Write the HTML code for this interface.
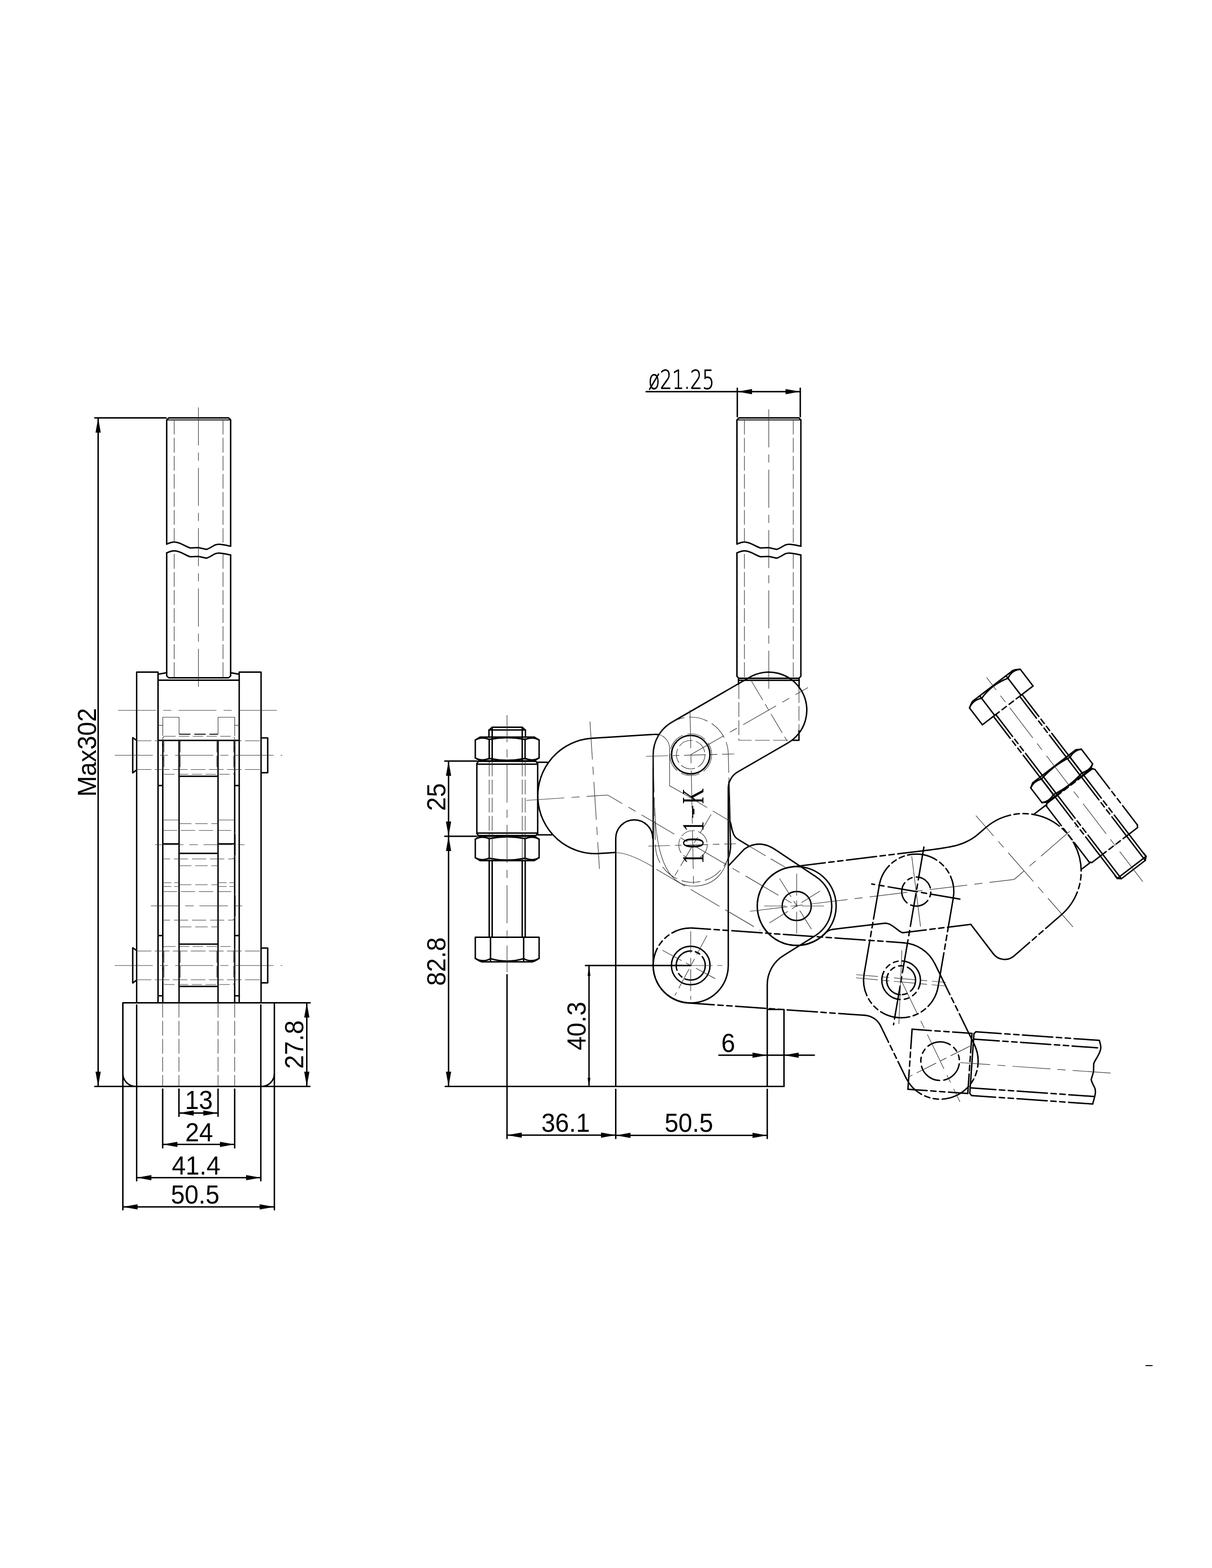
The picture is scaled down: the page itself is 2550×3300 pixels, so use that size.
<!DOCTYPE html>
<html><head><meta charset="utf-8"><title>Toggle clamp 101-K</title>
<style>
html,body{margin:0;padding:0;background:#fff}
svg{display:block}
.k{fill:none;stroke:#000;stroke-width:3;stroke-linecap:round;stroke-linejoin:round}
.m{fill:none;stroke:#000;stroke-width:2.1;stroke-linecap:butt;stroke-linejoin:round}
.t{fill:none;stroke:#303030;stroke-width:1.2;stroke-linecap:butt}
.a{fill:#000;stroke:none}
.d{font-family:"Liberation Sans",sans-serif;fill:#000}
.s{font-family:"Liberation Serif",serif;fill:#000}
.x{font-family:"DejaVu Sans","Liberation Sans",sans-serif;font-weight:200;fill:#000}
</style></head><body>
<svg width="2550" height="3300" viewBox="0 0 2550 3300">
<rect x="0" y="0" width="2550" height="3300" fill="#fff"/>
<g id="left-view">
<path class="k" d="M199.5 879.5L349.5 879.5"/>
<path class="k" d="M206.5 882L206.5 2284"/>
<polygon class="a" points="206.5,879.5 212,910.5 201,910.5"/>
<polygon class="a" points="206.5,2286.5 201,2255.5 212,2255.5"/>
<path class="k" d="M199.5 2286.5L652 2286.5"/>
<text class="d" transform="translate(201.5 1583.5) rotate(-90) scale(1 1.04)" font-size="52.5" text-anchor="middle">Max302</text>
<path class="k" d="M350.75 1145V883.5 L355 879.5H481L485.25 883.5V1149.5"/>
<path class="m" d="M350.75 883.75H485.25"/>
<path class="k" d="M350.75 1145C356.75 1142.5 360.75 1140.75 366.75 1140.75C378.75 1140.75 390.25 1150.25 400.25 1153.25L417.5 1152.5L434.25 1156.25C441.25 1154.25 447.25 1149.5 452.25 1147C455.25 1146 457.25 1145.5 460.25 1145.5C468.25 1145.5 477.25 1148 485.25 1149.5"/>
<path class="k" d="M350.75 1163.5C356.75 1161 360.75 1159.25 366.75 1159.25C378.75 1159.25 390.25 1168.75 400.25 1171.75L417.5 1171L434.25 1174.75C441.25 1172.75 447.25 1168 452.25 1165.5C455.25 1164.5 457.25 1164 460.25 1164C468.25 1164 477.25 1166.5 485.25 1168"/>
<path class="k" d="M350.75 1163.5V1422.5 L355 1426.5H481L485.25 1422.5V1168"/>
<path class="t" d="M366.5 883.5L366.5 1142" stroke-dasharray="31 7"/>
<path class="t" d="M366.5 1166L366.5 1426.5" stroke-dasharray="31 7"/>
<path class="t" d="M469.25 883.5L469.25 1142" stroke-dasharray="31 7"/>
<path class="t" d="M469.25 1166L469.25 1426.5" stroke-dasharray="31 7"/>
<path class="t" d="M417.5 857.5L417.5 1454.5" stroke-dasharray="80 15 17 15"/>
<path class="k" d="M332.5 2110.5V1414.5H287.5V2110.5"/>
<path class="k" d="M503.25 2110.5V1414.5H549.25V2110.5"/>
<path class="k" d="M334 1418.75L350.75 1415.75"/>
<path class="k" d="M485.25 1415.75L501.75 1418.75"/>
<path class="k" d="M332.5 1431.5L503.25 1431.5"/>
<path class="k" d="M332.5 1558.25L503.25 1558.25"/>
<path class="k" d="M342.5 1558.25L342.5 2110.5"/>
<path class="k" d="M376.75 1558.25L376.75 2110.5"/>
<path class="k" d="M458.75 1558.25L458.75 2110.5"/>
<path class="k" d="M493.75 1558.25L493.75 2110.5"/>
<path class="k" d="M376.75 1633.75L458.75 1633.75"/>
<path class="k" d="M376.75 1796L458.75 1796"/>
<path class="k" d="M376.75 1987L458.75 1987"/>
<path class="k" d="M376.75 2076L458.75 2076"/>
<path class="m" d="M376.75 1545.25L458.75 1545.25" stroke-dasharray="24 8"/>
<path class="k" d="M342.5 1776L376.75 1776"/>
<path class="k" d="M458.75 1776L493.75 1776"/>
<path class="k" d="M332.5 1653.25L342.5 1653.25"/>
<path class="k" d="M493.75 1653.25L503.25 1653.25"/>
<path class="k" d="M332.5 1969L342.5 1969"/>
<path class="k" d="M493.75 1969L503.25 1969"/>
<path class="k" d="M332.5 2095.75L342.5 2095.75"/>
<path class="k" d="M493.75 2095.75L503.25 2095.75"/>
<path class="k" d="M287.5 1558.25L279.25 1552.5V1626.5L287.5 1620.5"/>
<path class="k" d="M549.25 1553H563.25V1626.25H549.25"/>
<path class="k" d="M287.5 2000.5L279.25 1994.75V2068.75L287.5 2062.75"/>
<path class="k" d="M549.25 1995.25H563.25V2068.5H549.25"/>
<path class="t" d="M248.5 1495L585 1495" stroke-dasharray="80 15 17 15"/>
<path class="t" d="M342.5 1549V1509.5H376.75V1545"/>
<path class="t" d="M458.75 1545V1509.5H493.75V1549"/>
<path class="t" d="M332.5 1526.5L342.5 1526.5"/>
<path class="t" d="M493.75 1526.5L503.25 1526.5"/>
<rect class="t" x="342.5" y="1549.5" width="151.25" height="80" rx="5" stroke-dasharray="22 7"/>
<path class="t" d="M287.5 1559L549 1559" stroke-dasharray="31 7"/>
<path class="t" d="M287.5 1619.5L549 1619.5" stroke-dasharray="31 7"/>
<path class="t" d="M241.5 1589.5L594 1589.5" stroke-dasharray="80 15 17 15"/>
<path class="t" d="M345 1559.5L345 1619.5" stroke-dasharray="24 7"/>
<path class="t" d="M379.25 1559.5L379.25 1619.5" stroke-dasharray="24 7"/>
<path class="t" d="M456.25 1559.5L456.25 1619.5" stroke-dasharray="24 7"/>
<path class="t" d="M491.75 1559.5L491.75 1619.5" stroke-dasharray="24 7"/>
<rect class="t" x="342.5" y="1992" width="151.25" height="80" rx="5" stroke-dasharray="22 7"/>
<path class="t" d="M287.5 2001.5L549 2001.5" stroke-dasharray="31 7"/>
<path class="t" d="M287.5 2062L549 2062" stroke-dasharray="31 7"/>
<path class="t" d="M241.5 2032L594 2032" stroke-dasharray="80 15 17 15"/>
<path class="t" d="M345 2002L345 2062" stroke-dasharray="24 7"/>
<path class="t" d="M379.25 2002L379.25 2062" stroke-dasharray="24 7"/>
<path class="t" d="M456.25 2002L456.25 2062" stroke-dasharray="24 7"/>
<path class="t" d="M491.75 2002L491.75 2062" stroke-dasharray="24 7"/>
<path class="t" d="M342.5 1725.75L376.75 1725.75"/>
<path class="t" d="M458.75 1725.75L493.75 1725.75"/>
<path class="t" d="M376.75 1733.5L458.75 1733.5" stroke-dasharray="26 8"/>
<path class="t" d="M376.75 1822L458.75 1822" stroke-dasharray="26 8"/>
<path class="t" d="M376.75 1862L458.75 1862" stroke-dasharray="26 8"/>
<path class="t" d="M376.75 1950.75L458.75 1950.75" stroke-dasharray="26 8"/>
<path class="t" d="M342.5 1857.75L376.75 1857.75" stroke-dasharray="18 6"/>
<path class="t" d="M458.75 1857.75L493.75 1857.75" stroke-dasharray="18 6"/>
<path class="t" d="M342.5 1865.75L376.75 1865.75" stroke-dasharray="18 6"/>
<path class="t" d="M458.75 1865.75L493.75 1865.75" stroke-dasharray="18 6"/>
<path class="t" d="M342.5 1747.75H488a6 6 0 0 1 6 6V1801.75a6 6 0 0 1 -6 6H342.5" stroke-dasharray="30 8"/>
<path class="m" d="M494.5 1755.75L494.5 1799.75"/>
<path class="t" d="M342.5 1876.5H488a6 6 0 0 1 6 6V1930.5a6 6 0 0 1 -6 6H342.5" stroke-dasharray="30 8"/>
<path class="m" d="M494.5 1884.5L494.5 1928.5"/>
<path class="t" d="M326.25 1777.75L514.25 1777.75" stroke-dasharray="60 12 18 12"/>
<path class="t" d="M317.5 1906.5L510.75 1906.5" stroke-dasharray="60 12 18 12"/>
<path class="k" d="M258.5 2546V2110.5H652.5"/>
<path class="k" d="M577.25 2110.5L577.25 2546"/>
<path class="k" d="M258.5 2259.5A27 27 0 0 0 285.5 2286.5"/>
<path class="k" d="M577.25 2259.5A27 27 0 0 1 550.25 2286.5"/>
<path class="k" d="M287.5 2115L287.5 2485"/>
<path class="k" d="M548.75 2115L548.75 2485"/>
<path class="t" d="M342.25 2110.5L342.25 2286" stroke-dasharray="31 7"/>
<path class="t" d="M376.5 2110.5L376.5 2286" stroke-dasharray="31 7"/>
<path class="t" d="M458.75 2110.5L458.75 2286" stroke-dasharray="31 7"/>
<path class="t" d="M493.75 2110.5L493.75 2286" stroke-dasharray="31 7"/>
<path class="k" d="M342.25 2292L342.25 2415.75"/>
<path class="k" d="M493.75 2292L493.75 2415.75"/>
<path class="k" d="M376.5 2292L376.5 2349.25"/>
<path class="k" d="M458.75 2292L458.75 2349.25"/>
<path class="k" d="M376.5 2342.5L458.75 2342.5"/>
<polygon class="a" points="376.5,2342.5 407.5,2337 407.5,2348"/>
<polygon class="a" points="458.75,2342.5 427.75,2348 427.75,2337"/>
<text class="d" transform="translate(418.5 2334) scale(1 1.04)" font-size="52.5" text-anchor="middle">13</text>
<path class="k" d="M342.25 2408.5L493.75 2408.5"/>
<polygon class="a" points="342.25,2408.5 373.25,2403 373.25,2414"/>
<polygon class="a" points="493.75,2408.5 462.75,2414 462.75,2403"/>
<text class="d" transform="translate(419 2401.5) scale(1 1.04)" font-size="52.5" text-anchor="middle">24</text>
<path class="k" d="M287.5 2478.5L548.75 2478.5"/>
<polygon class="a" points="287.5,2478.5 318.5,2473 318.5,2484"/>
<polygon class="a" points="548.75,2478.5 517.75,2484 517.75,2473"/>
<text class="d" transform="translate(412.5 2472) scale(1 1.04)" font-size="52.5" text-anchor="middle">41.4</text>
<path class="k" d="M258.5 2540L577.25 2540"/>
<polygon class="a" points="258.5,2540 289.5,2534.5 289.5,2545.5"/>
<polygon class="a" points="577.25,2540 546.25,2545.5 546.25,2534.5"/>
<text class="d" transform="translate(410.5 2532.5) scale(1 1.04)" font-size="52.5" text-anchor="middle">50.5</text>
<path class="k" d="M645.5 2113L645.5 2284"/>
<polygon class="a" points="645.5,2110.5 651,2141.5 640,2141.5"/>
<polygon class="a" points="645.5,2286.5 640,2255.5 651,2255.5"/>
<text class="d" transform="translate(638 2198.5) rotate(-90) scale(1 1.04)" font-size="52.5" text-anchor="middle">27.8</text>
</g>
<g id="right-view">
<path class="k" d="M1550.5 1145V883.5 L1554.75 879.5H1680.75L1685 883.5V1149.5"/>
<path class="m" d="M1550.5 883.75H1685"/>
<path class="k" d="M1550.5 1145C1556.5 1142.5 1560.5 1140.75 1566.5 1140.75C1578.5 1140.75 1590 1150.25 1600 1153.25L1617.25 1152.5L1634 1156.25C1641 1154.25 1647 1149.5 1652 1147C1655 1146 1657 1145.5 1660 1145.5C1668 1145.5 1677 1148 1685 1149.5"/>
<path class="k" d="M1550.5 1163.5C1556.5 1161 1560.5 1159.25 1566.5 1159.25C1578.5 1159.25 1590 1168.75 1600 1171.75L1617.25 1171L1634 1174.75C1641 1172.75 1647 1168 1652 1165.5C1655 1164.5 1657 1164 1660 1164C1668 1164 1677 1166.5 1685 1168"/>
<path class="k" d="M1550.5 1163.5V1423.5 L1554.75 1427.5H1680.75L1685 1423.5V1168"/>
<path class="t" d="M1566.25 883.5L1566.25 1142" stroke-dasharray="31 7"/>
<path class="t" d="M1566.25 1166L1566.25 1427.5" stroke-dasharray="31 7"/>
<path class="t" d="M1669 883.5L1669 1142" stroke-dasharray="31 7"/>
<path class="t" d="M1669 1166L1669 1427.5" stroke-dasharray="31 7"/>
<path class="t" d="M1617.5 861.5L1617.5 1455" stroke-dasharray="80 15 17 15"/>
<path class="k" d="M1553.75 1431.75L1681.25 1431.75"/>
<path class="k" d="M1553.75 1428L1553.75 1440"/>
<path class="k" d="M1681.25 1428L1681.25 1448"/>
<path class="t" d="M1554.5 1440V1558H1666" stroke-dasharray="31 7"/>
<path class="t" d="M1681 1448L1681 1540" stroke-dasharray="31 7"/>
<path class="k" d="M1668 1558H1681V1538"/>
<path class="k" d="M1359.5 824.25L1683.75 824.25"/>
<path class="k" d="M1551.25 817L1551.25 877"/>
<path class="k" d="M1683.75 817L1683.75 877"/>
<polygon class="a" points="1551.25,824.25 1582.25,818.75 1582.25,829.75"/>
<polygon class="a" points="1683.75,824.25 1652.75,829.75 1652.75,818.75"/>
<text class="x" transform="translate(1364 817.5) scale(1 1.37)" font-size="40" stroke="#000" stroke-width="0.9" stroke-linejoin="round" style="filter:grayscale(1)">ø21.25</text>
<path class="k" d="M1374.25 2032L1374.25 1588.25A79 79 0 0 1 1413.75 1519.83L1577.5 1425.22A80 80 0 0 1 1686.78 1454.5A80 80 0 0 1 1657.5 1563.78L1552.25 1624.55A40 40 0 0 0 1532.25 1659.19L1532.25 2032A79 79 0 0 1 1453.25 2111A79 79 0 0 1 1374.25 2032"/>
<circle class="k" cx="1453.25" cy="1588.25" r="40.4"/>
<circle class="t" cx="1453.25" cy="1588.25" r="30" stroke-dasharray="31 7"/>
<circle class="t" cx="1453.25" cy="1588.25" r="44" stroke-dasharray="40 10"/>
<circle class="k" cx="1453.25" cy="2032" r="40.6"/>
<circle class="k" cx="1453.25" cy="2032" r="30.6" stroke-dasharray="60 8 10 8" stroke-linecap="butt"/>
<path class="k" d="M936.75 2286.5L1649.5 2286.5"/>
<path class="k" d="M1295.5 2286.5V1764.4A38.9 38.9 0 0 1 1373.4 1764.4"/>
<path class="k" d="M1614.25 2286.5V2072.5A72 72 0 0 1 1648.2 2011.3L1715.33 1969.29 A73.75 73.75 0 0 0 1717.17 1845.39 L1631 1788 Q1597.5 1765.5 1566 1787L1532.5 1822.5"/>
<path class="k" d="M1614.25 2124.5H1649.5V2286.5"/>
<circle class="k" cx="1676.25" cy="1906.75" r="30.6"/>
<path class="k" d="M1260.63 1796.26A121.5 121.5 0 0 1 1131.74 1682.63A121.5 121.5 0 0 1 1245.37 1553.74L1376.87 1545.47L1377.5 1545.4L1386 1546"/>
<path class="k" d="M1260.63 1796.26 L1295.5 1794"/>
<path class="k" d="M1537 1731C1538.5 1738 1539.5 1744 1541.5 1750C1543.5 1758 1547 1763 1552.5 1766.25L1575 1780"/>
<path class="k" d="M1593.3 1909.65 A83 83 0 1 1 1611.75 1958.98"/>
<path class="k" d="M1611.75 1958.98 A83 83 0 0 1 1593.3 1909.65" stroke-dasharray="14 8" stroke-linecap="butt"/>
<path class="t" d="M1386 1546A30 30 0 0 1 1408.75 1575.4V1653.6L1436 1669"/>
<path class="t" d="M1295.5 1794.5Q1322 1794 1372.5 1823.5"/>
<path class="t" d="M1381 1829.5L1599.75 1958.1" stroke-dasharray="70 14"/>
<path class="t" d="M1575 1780L1652.12 1825.35" stroke-dasharray="42 12"/>
<path class="t" d="M1436 1669L1532.81 1726.37" stroke-dasharray="60 14"/>
<path class="k" d="M1533.6 1645L1537 1776A79 79 0 0 1 1532.5 1806"/>
<path class="t" d="M1532.23 1586.27L1536.98 1776.02A79 79 0 0 1 1459.98 1856.98A79 79 0 0 1 1379.02 1779.98L1374.27 1590.23A79 79 0 0 1 1451.27 1509.27A79 79 0 0 1 1532.23 1586.27" stroke-dasharray="40 10"/>
<circle class="t" cx="1458" cy="1778" r="30" stroke-dasharray="31 7"/>
<path class="t" d="M1377.5 1700C1380 1790 1400 1865 1458 1865C1500 1865 1528 1840 1534 1790"/>
<path class="k" d="M1028.75 1551V1536.5L1035.5 1530.5H1098.75L1105.5 1536.5V1551"/>
<path class="k" d="M1028.75 1536.3L1105.5 1536.3"/>
<path class="k" d="M1035.5 1530.5L1035.5 1551"/>
<path class="k" d="M1098.75 1530.5L1098.75 1551"/>
<path class="k" d="M1010 1551.25 H1124.25 L1134.25 1557.5 V1595 L1124.25 1601.25 H1010 L1000 1595 V1557.5 Z"/>
<path class="k" d="M1029.25 1555.25L1029.25 1597.25"/>
<path class="k" d="M1104.75 1555.25L1104.75 1597.25"/>
<path class="k" d="M1029.25 1556.25Q1067 1548.75 1104.75 1556.25"/>
<path class="k" d="M1029.25 1596.25Q1067 1603.75 1104.75 1596.25"/>
<path class="k" d="M1000 1557.5Q1013 1549.75 1029.25 1556.25"/>
<path class="k" d="M1104.75 1556.25Q1121 1549.75 1134.25 1557.5"/>
<path class="k" d="M1000 1595Q1013 1602.75 1029.25 1596.25"/>
<path class="k" d="M1104.75 1596.25Q1121 1602.75 1134.25 1595"/>
<path class="k" d="M1035.5 1551L1035.5 1601"/>
<path class="k" d="M1098.75 1551L1098.75 1601"/>
<path class="k" d="M1006.5 1602.25L1127.5 1602.25L1131.25 1607L1131.25 1754L1127.5 1758.5L1006.5 1758.5L1003.25 1754L1003.25 1607Z"/>
<path class="k" d="M1003.25 1608.25L1131.25 1608.25"/>
<path class="k" d="M1003.25 1753.25L1131.25 1753.25"/>
<path class="t" d="M1029.25 1603L1029.25 1758" stroke-dasharray="31 7"/>
<path class="t" d="M1035.5 1603L1035.5 1758" stroke-dasharray="31 7"/>
<path class="t" d="M1098.75 1603L1098.75 1758" stroke-dasharray="31 7"/>
<path class="t" d="M1105 1603L1105 1758" stroke-dasharray="31 7"/>
<path class="k" d="M1010 1760 H1124.25 L1134.25 1766.25 V1805 L1124.25 1811.25 H1010 L1000 1805 V1766.25 Z"/>
<path class="k" d="M1029.25 1764L1029.25 1807.25"/>
<path class="k" d="M1104.75 1764L1104.75 1807.25"/>
<path class="k" d="M1029.25 1765Q1067 1757.5 1104.75 1765"/>
<path class="k" d="M1029.25 1806.25Q1067 1813.75 1104.75 1806.25"/>
<path class="k" d="M1000 1766.25Q1013 1758.5 1029.25 1765"/>
<path class="k" d="M1104.75 1765Q1121 1758.5 1134.25 1766.25"/>
<path class="k" d="M1000 1805Q1013 1812.75 1029.25 1806.25"/>
<path class="k" d="M1104.75 1806.25Q1121 1812.75 1134.25 1805"/>
<path class="k" d="M1029.25 1811.25L1029.25 1972.5"/>
<path class="t" d="M1029.25 1762L1029.25 1810"/>
<path class="k" d="M1035.5 1811.25L1035.5 1972.5"/>
<path class="t" d="M1035.5 1762L1035.5 1810"/>
<path class="k" d="M1098.75 1811.25L1098.75 1972.5"/>
<path class="t" d="M1098.75 1762L1098.75 1810"/>
<path class="k" d="M1105 1811.25L1105 1972.5"/>
<path class="t" d="M1105 1762L1105 1810"/>
<path class="k" d="M1000 1972.5H1134.25V2017Q1121 2026 1117 2024.25H1017Q1013 2026 1000 2017Z"/>
<path class="k" d="M1032 1972.5L1032 2024"/>
<path class="k" d="M1101.75 1972.5L1101.75 2024"/>
<path class="k" d="M1000 2017Q1016 2026.5 1032 2017.5Q1067 2028 1101.75 2017.5Q1118 2026.5 1134.25 2017"/>
<path class="k" d="M1131.25 1604.25L1151.5 1604.25"/>
<path class="k" d="M1131.25 1757L1161.5 1757"/>
<path class="t" d="M1066.75 1505L1066.75 2046" stroke-dasharray="80 15 17 15" stroke-dashoffset="23"/>
<path class="k" d="M1066.75 2051.5L1066.75 2396"/>
<path class="t" d="M1241.25 1518.75L1261.25 1828.75" stroke-dasharray="80 15 17 15"/>
<path class="t" d="M1107.5 1684.5L1278.75 1673.25L1676.25 1906.75" stroke-dasharray="80 15 17 15"/>
<path class="t" d="M1359.25 1591.75L1545 1586.75" stroke-dasharray="46 10 14 10"/>
<path class="t" d="M1451.75 1494.5L1459.5 1875" stroke-dasharray="80 15 17 15"/>
<path class="t" d="M1453.25 1588.25 L1700 1447" stroke-dasharray="80 15 17 15"/>
<path class="t" d="M1581.25 1433.75L1656.25 1560" stroke-dasharray="46 10 14 10"/>
<path class="t" d="M1363.75 1780.75L1548.75 1775.75" stroke-dasharray="46 10 14 10"/>
<path class="t" d="M1496.25 1713.75L1420 1842.5" stroke-dasharray="46 10 14 10"/>
<path class="t" d="M1453.25 1960L1453.25 2103.75" stroke-dasharray="46 10 14 10"/>
<path class="t" d="M1453.25 2032L1520 2032" stroke-dasharray="46 10 14 10"/>
<path class="t" d="M1487.5 1968.75L1420 2095" stroke-dasharray="46 10 14 10"/>
<path class="t" d="M1393.75 2000L1512.5 2063.75" stroke-dasharray="46 10 14 10"/>
<path class="t" d="M1676.25 1838.75L1676.25 1975" stroke-dasharray="46 10 14 10"/>
<path class="t" d="M1607.5 1906.75L1743.75 1906.75" stroke-dasharray="46 10 14 10"/>
<path class="t" d="M1640 1848.75L1712.5 1963.75" stroke-dasharray="46 10 14 10"/>
<path class="t" d="M1618.75 1942.5L1733.75 1870" stroke-dasharray="46 10 14 10"/>
<g transform="rotate(142.6 1676.25 1906.75)">
<path class="k" d="M1260.63 1796.26A121.5 121.5 0 0 1 1131.74 1682.63A121.5 121.5 0 0 1 1245.37 1553.74" stroke-dasharray="59.6 7.5 11.25 7.5 11.25 7.5 63.75 7.5 11.25 7.5 11.25 7.5 63.75 7.5 11.25 7.5 11.25 7.5 64.6 2000" stroke-linecap="butt"/>
<path class="k" d="M1245.37 1553.74L1376.87 1545.47" stroke-dasharray="43.38 7.5 11.25 7.5 11.25 7.5 48.38 2000" stroke-linecap="butt"/>
<path class="k" d="M1376.87 1545.46A30 30 0 0 1 1408.75 1575.4"/>
<path class="k" d="M1408.75 1575.4L1408.75 1653.6"/>
<path class="k" d="M1408.75 1653.6L1532.81 1726.37" stroke-dasharray="49.41 7.5 11.25 7.5 11.25 7.5 54.41 2000" stroke-linecap="butt"/>
<path class="k" d="M1532.81 1726.37C1539.5 1731 1538 1758 1552.5 1766.25"/>
<path class="k" d="M1552.5 1766.25L1646 1821.76"/>
<path class="k" d="M1646 1821.76A25 25 0 0 0 1662.73 1824.85"/>
<path class="k" d="M1662.69 1824.86A83 83 0 0 1 1757.86 1921.88A83 83 0 0 1 1634.25 1978.34" stroke-dasharray="82.33 7.5 11.25 7.5 11.25 7.5 63.75 7.5 11.25 7.5 11.25 7.5 87.33 2000" stroke-linecap="butt"/>
<path class="k" d="M1634.25 1978.34L1379.81 1829.07" stroke-dasharray="70.62 7.5 11.25 7.5 11.25 7.5 63.75 7.5 11.25 7.5 11.25 7.5 75.62 2000" stroke-linecap="butt"/>
<path class="k" d="M1379.81 1829.07C1345 1809 1318 1793 1282 1794.9"/>
<path class="k" d="M1282 1794.9L1260.63 1796.26"/>
<path class="k" d="M1028.75 1551V1543.5L1035.5 1537.5H1098.75L1105.5 1543.5V1551"/>
<path class="k" d="M1028.75 1543.3L1105.5 1543.3"/>
<path class="k" d="M1029.25 1760L1029.25 1544" stroke-dasharray="62 7.5 11.25 7.5 11.25 7.5 300" stroke-linecap="butt"/>
<path class="k" d="M1029.25 1811.25L1029.25 1972.5" stroke-dasharray="58.12 7.5 11.25 7.5 11.25 7.5 63.12 2000" stroke-linecap="butt"/>
<path class="k" d="M1029.25 1762L1029.25 1810"/>
<path class="k" d="M1035.5 1760L1035.5 1537.5" stroke-dasharray="62 7.5 11.25 7.5 11.25 7.5 300" stroke-linecap="butt"/>
<path class="k" d="M1035.5 1811.25L1035.5 1972.5" stroke-dasharray="58.12 7.5 11.25 7.5 11.25 7.5 63.12 2000" stroke-linecap="butt"/>
<path class="k" d="M1035.5 1762L1035.5 1810"/>
<path class="k" d="M1098.75 1760L1098.75 1537.5" stroke-dasharray="62 7.5 11.25 7.5 11.25 7.5 300" stroke-linecap="butt"/>
<path class="k" d="M1098.75 1811.25L1098.75 1972.5" stroke-dasharray="58.12 7.5 11.25 7.5 11.25 7.5 63.12 2000" stroke-linecap="butt"/>
<path class="k" d="M1098.75 1762L1098.75 1810"/>
<path class="k" d="M1105 1760L1105 1544" stroke-dasharray="62 7.5 11.25 7.5 11.25 7.5 300" stroke-linecap="butt"/>
<path class="k" d="M1105 1811.25L1105 1972.5" stroke-dasharray="58.12 7.5 11.25 7.5 11.25 7.5 63.12 2000" stroke-linecap="butt"/>
<path class="k" d="M1105 1762L1105 1810"/>
<path class="k" d="M1006.5 1602.25L1127.5 1602.25" stroke-dasharray="38 7.5 11.25 7.5 11.25 7.5 43 2000" stroke-linecap="butt"/>
<path class="k" d="M1127.5 1602.25L1131.25 1607"/>
<path class="k" d="M1131.25 1607L1131.25 1754" stroke-dasharray="51 7.5 11.25 7.5 11.25 7.5 56 2000" stroke-linecap="butt"/>
<path class="k" d="M1131.25 1754L1127.5 1758.5"/>
<path class="k" d="M1127.5 1758.5L1006.5 1758.5" stroke-dasharray="38 7.5 11.25 7.5 11.25 7.5 43 2000" stroke-linecap="butt"/>
<path class="k" d="M1006.5 1758.5L1003.25 1754"/>
<path class="k" d="M1003.25 1754L1003.25 1607" stroke-dasharray="51 7.5 11.25 7.5 11.25 7.5 56 2000" stroke-linecap="butt"/>
<path class="k" d="M1003.25 1607L1006.5 1602.25"/>
<path class="k" d="M1010 1760 H1124.25 L1134.25 1766.25 V1805 L1124.25 1811.25 H1010 L1000 1805 V1766.25 Z"/>
<path class="k" d="M1029.25 1764L1029.25 1807.25"/>
<path class="k" d="M1104.75 1764L1104.75 1807.25"/>
<path class="k" d="M1029.25 1765Q1067 1757.5 1104.75 1765"/>
<path class="k" d="M1029.25 1806.25Q1067 1813.75 1104.75 1806.25"/>
<path class="k" d="M1000 1766.25Q1013 1758.5 1029.25 1765"/>
<path class="k" d="M1104.75 1765Q1121 1758.5 1134.25 1766.25"/>
<path class="k" d="M1000 1805Q1013 1812.75 1029.25 1806.25"/>
<path class="k" d="M1104.75 1806.25Q1121 1812.75 1134.25 1805"/>
<path class="k" d="M1000 1972.5L1134.25 1972.5" stroke-dasharray="44.62 7.5 11.25 7.5 11.25 7.5 49.62 2000" stroke-linecap="butt"/>
<path class="k" d="M1134.25 1972.5V2017Q1121 2026 1117 2024.25H1017Q1013 2026 1000 2017V1972.5"/>
<path class="k" d="M1032 1972.5L1032 2024"/>
<path class="k" d="M1101.75 1972.5L1101.75 2024"/>
<path class="k" d="M1000 2017Q1016 2026.5 1032 2017.5Q1067 2028 1101.75 2017.5Q1118 2026.5 1134.25 2017"/>
<path class="k" d="M1131.25 1604.25L1151.5 1604.25"/>
<path class="k" d="M1131.25 1757L1161.5 1757"/>
<circle class="k" cx="1458" cy="1778" r="30.6" stroke-dasharray="40 9 10 9" stroke-linecap="butt"/>
<path class="t" d="M1066.75 1505L1066.75 2046" stroke-dasharray="80 15 17 15"/>
<path class="t" d="M1241.25 1518.75L1261.25 1828.75" stroke-dasharray="80 15 17 15"/>
</g>
<path class="t" d="M1577.5 1918L2133.85 1850.81 L2264 1738" stroke-dasharray="80 15 17 15"/>
<path class="k" d="M2005.7 1889.8L1973.79 2076.28" stroke-dasharray="72.1 7.5 11.25 7.5 11.25 7.5 77.1 2000" stroke-linecap="butt"/>
<path class="k" d="M1973.79 2076.28A79 79 0 0 1 1882.59 2140.82A79 79 0 0 1 1818.05 2049.63" stroke-dasharray="47.22 7.5 11.25 7.5 11.25 7.5 63.75 7.5 11.25 7.5 11.25 7.5 52.22 2000" stroke-linecap="butt"/>
<path class="k" d="M1818.05 2049.63L1849.96 1863.15" stroke-dasharray="72.1 7.5 11.25 7.5 11.25 7.5 77.1 2000" stroke-linecap="butt"/>
<path class="k" d="M1849.96 1863.15A79 79 0 0 1 1941.16 1798.6A79 79 0 0 1 2005.7 1889.8" stroke-dasharray="47.22 7.5 11.25 7.5 11.25 7.5 63.75 7.5 11.25 7.5 11.25 7.5 52.22 2000" stroke-linecap="butt"/>
<path class="k" d="M1943.85 1782.83L1879.9 2156.59" stroke-dasharray="70 9 11 9" stroke-linecap="butt"/>
<path class="k" d="M2019.5 1892.16L1834.19 1860.45" stroke-dasharray="62 9 11 9" stroke-linecap="butt"/>
<path class="t" d="M1918.25 1802L1936.75 1950"/>
<path class="t" d="M1801.25 2051.25L1990 2067.5" stroke-dasharray="46 10 14 10"/>
<path class="t" d="M1801 2058L1987.5 2075" stroke-dasharray="46 10 14 10"/>
<path class="t" d="M1897.5 2000L1891.25 2155"/>
<g transform="rotate(94 1453.25 2032)">
<path class="k" d="M1374.25 2032L1374.25 1588.25" stroke-dasharray="36.25 7.5 11.25 7.5 11.25 7.5 63.75 7.5 11.25 7.5 11.25 7.5 63.75 7.5 11.25 7.5 11.25 7.5 63.75 7.5 11.25 7.5 11.25 7.5 41.25 2000" stroke-linecap="butt"/>
<path class="k" d="M1374.25 1588.25A79 79 0 0 1 1413.75 1519.83"/>
<path class="k" d="M1413.75 1519.83L1577.5 1425.22" stroke-dasharray="72.06 7.5 11.25 7.5 11.25 7.5 77.06 2000" stroke-linecap="butt"/>
<path class="k" d="M1577.5 1425.22A80 80 0 0 1 1686.78 1454.5A80 80 0 0 1 1657.5 1563.78" stroke-dasharray="48.79 7.5 11.25 7.5 11.25 7.5 63.75 7.5 11.25 7.5 11.25 7.5 53.79 2000" stroke-linecap="butt"/>
<path class="k" d="M1657.5 1563.78L1552.25 1624.55" stroke-dasharray="38.27 7.5 11.25 7.5 11.25 7.5 43.27 2000" stroke-linecap="butt"/>
<path class="k" d="M1552.25 1624.55A40 40 0 0 0 1532.25 1659.19"/>
<path class="k" d="M1532.25 1659.19L1532.25 2032" stroke-dasharray="55.16 7.5 11.25 7.5 11.25 7.5 63.75 7.5 11.25 7.5 11.25 7.5 63.75 7.5 11.25 7.5 11.25 7.5 60.16 2000" stroke-linecap="butt"/>
<path class="k" d="M1532.25 2032A79 79 0 0 1 1453.25 2111A79 79 0 0 1 1374.25 2032" stroke-dasharray="47.22 7.5 11.25 7.5 11.25 7.5 63.75 7.5 11.25 7.5 11.25 7.5 52.22 2000" stroke-linecap="butt"/>
<circle class="k" cx="1453.25" cy="1588.25" r="40.6" stroke-dasharray="80 9 10 9 10 9" stroke-linecap="butt"/>
<circle class="k" cx="1453.25" cy="1588.25" r="30.4" stroke-dasharray="60 9 10 9 10 9" stroke-linecap="butt"/>
<circle class="k" cx="1617.5" cy="1494.5" r="40.6" stroke-dasharray="50 9 10 9 10 9" stroke-linecap="butt"/>
<path class="k" d="M1554.5 1431.75L1554.5 1558" stroke-dasharray="40.62 7.5 11.25 7.5 11.25 7.5 45.62 2000" stroke-linecap="butt"/>
<path class="k" d="M1554.5 1558L1681.25 1558" stroke-dasharray="40.88 7.5 11.25 7.5 11.25 7.5 45.88 2000" stroke-linecap="butt"/>
<path class="k" d="M1681.25 1558L1681.25 1431.75" stroke-dasharray="40.62 7.5 11.25 7.5 11.25 7.5 45.62 2000" stroke-linecap="butt"/>
<path class="k" d="M1681.25 1431.75L1554.5 1431.75" stroke-dasharray="40.88 7.5 11.25 7.5 11.25 7.5 45.88 2000" stroke-linecap="butt"/>
<path class="k" d="M1550.5 1163.5L1550.5 1423.5" stroke-dasharray="53.12 7.5 11.25 7.5 11.25 7.5 63.75 7.5 11.25 7.5 11.25 7.5 58.12 2000" stroke-linecap="butt"/>
<path class="k" d="M1685 1168L1685 1423.5" stroke-dasharray="50.88 7.5 11.25 7.5 11.25 7.5 63.75 7.5 11.25 7.5 11.25 7.5 55.88 2000" stroke-linecap="butt"/>
<path class="k" d="M1550.5 1423.5L1554.75 1427.5H1680.75L1685 1423.5"/>
<path class="k" d="M1550.5 1163.5C1556.5 1161 1560.5 1159.25 1566.5 1159.25C1578.5 1159.25 1590 1168.75 1600 1171.75L1617.25 1171L1634 1174.75C1641 1172.75 1647 1168 1652 1165.5C1655 1164.5 1657 1164 1660 1164C1668 1164 1677 1166.5 1685 1168"/>
<path class="k" d="M1566.25 1166L1566.25 1427" stroke-dasharray="53.62 7.5 11.25 7.5 11.25 7.5 63.75 7.5 11.25 7.5 11.25 7.5 58.62 2000" stroke-linecap="butt"/>
<path class="k" d="M1669 1166L1669 1427" stroke-dasharray="53.62 7.5 11.25 7.5 11.25 7.5 63.75 7.5 11.25 7.5 11.25 7.5 58.62 2000" stroke-linecap="butt"/>
<path class="t" d="M1617.5 1135L1617.5 1452" stroke-dasharray="80 15 17 15"/>
<path class="t" d="M1453.25 1588.25 L1700 1447" stroke-dasharray="80 15 17 15"/>
<path class="t" d="M1581.25 1433.75L1656.25 1560" stroke-dasharray="46 10 14 10"/>
</g>
<path class="k" d="M935.75 1601.75L1003.5 1601.75"/>
<path class="k" d="M935.75 1760L1003.5 1760"/>
<path class="k" d="M943.75 1603.75L943.75 1758"/>
<polygon class="a" points="943.75,1601.75 949.25,1632.75 938.25,1632.75"/>
<polygon class="a" points="943.75,1760 938.25,1729 949.25,1729"/>
<text class="d" transform="translate(936.5 1677.5) rotate(-90) scale(1 1.04)" font-size="52.5" text-anchor="middle">25</text>
<path class="k" d="M943.75 1762L943.75 2284.5"/>
<polygon class="a" points="943.75,1760 949.25,1791 938.25,1791"/>
<polygon class="a" points="943.75,2286.5 938.25,2255.5 949.25,2255.5"/>
<text class="d" transform="translate(937.3 2023.75) rotate(-90) scale(1 1.04)" font-size="52.5" text-anchor="middle">82.8</text>
<path class="k" d="M1231.75 2032L1453 2032"/>
<path class="k" d="M1239.25 2034L1239.25 2284" stroke-width="2.5"/>
<polygon class="a" points="1239.25,2032 1242.25,2054 1236.25,2054"/>
<polygon class="a" points="1239.25,2286.5 1236.25,2268.5 1242.25,2268.5"/>
<text class="d" transform="translate(1232 2159.5) rotate(-90) scale(1 1.04)" font-size="52.5" text-anchor="middle">40.3</text>
<path class="k" d="M1295.5 2292.5L1295.5 2396"/>
<path class="k" d="M1614.25 2292.5L1614.25 2396"/>
<path class="k" d="M1066.75 2389L1295.5 2389"/>
<polygon class="a" points="1066.75,2389 1097.75,2383.5 1097.75,2394.5"/>
<polygon class="a" points="1295.5,2389 1264.5,2394.5 1264.5,2383.5"/>
<text class="d" transform="translate(1190 2382) scale(1 1.04)" font-size="52.5" text-anchor="middle">36.1</text>
<path class="k" d="M1295.5 2389.5L1614.25 2389.5"/>
<polygon class="a" points="1295.5,2389.5 1326.5,2384 1326.5,2395"/>
<polygon class="a" points="1614.25,2389.5 1583.25,2395 1583.25,2384"/>
<text class="d" transform="translate(1449.25 2382) scale(1 1.04)" font-size="52.5" text-anchor="middle">50.5</text>
<path class="k" d="M1512.5 2220.75L1713.25 2220.75"/>
<polygon class="a" points="1614.25,2220.75 1583.25,2226.25 1583.25,2215.25"/>
<polygon class="a" points="1649.5,2220.75 1680.5,2215.25 1680.5,2226.25"/>
<text class="d" transform="translate(1532 2213.75) scale(1 1.04)" font-size="52.5" text-anchor="middle">6</text>
<text class="s" transform="translate(1480 1807) rotate(-90) scale(0.68 1)" font-size="66" text-anchor="middle" x="0 48.53 100 145.59 193.38" y="0" dy="0 0 0 -6.5 6.5">101-K</text>
<path class="m" d="M1457.5 1696L1457.5 1721"/>
<path class="m" d="M2410 2874L2425 2874"/>
</g>
</svg>
</body></html>
